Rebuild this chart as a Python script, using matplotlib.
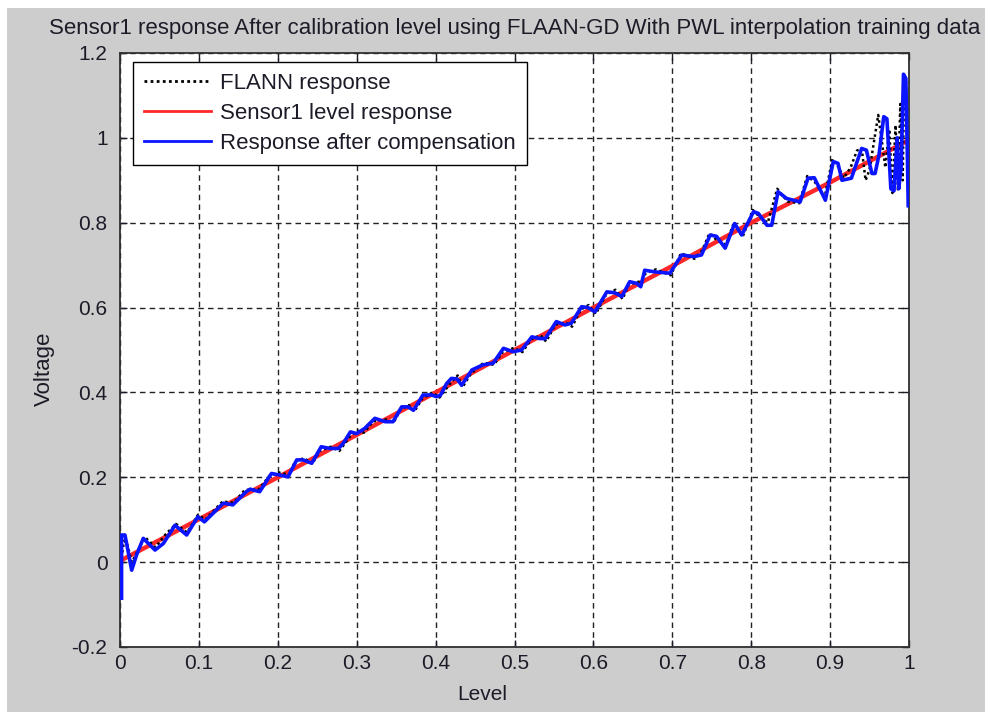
import matplotlib
matplotlib.use("Agg")
import matplotlib.pyplot as plt
from matplotlib.patches import Rectangle

plt.rcParams['font.family'] = ['Liberation Sans', 'DejaVu Sans']

# Reference sensor level response
level_ref = [0.0, 0.1, 0.2, 0.3, 0.4, 0.5, 0.6, 0.7, 0.8, 0.9, 1.0]
volt_ref = [0.003, 0.101, 0.200, 0.300, 0.400, 0.500, 0.600, 0.698, 0.800, 0.895, 0.995]

# Response after compensation
level_comp = [0.002, 0.002, 0.0063, 0.0148, 0.021, 0.0295, 0.0444, 0.055, 0.0697, 0.0845,
              0.0986, 0.107, 0.131, 0.143, 0.160, 0.165, 0.177, 0.192, 0.203, 0.213,
              0.224, 0.232, 0.243, 0.255, 0.266, 0.277, 0.283, 0.292, 0.300, 0.310,
              0.323, 0.336, 0.346, 0.357, 0.365, 0.372, 0.384, 0.395, 0.401, 0.406,
              0.414, 0.420, 0.427, 0.433, 0.446, 0.460, 0.473, 0.486, 0.498, 0.509,
              0.522, 0.532, 0.539, 0.553, 0.564, 0.572, 0.585, 0.593, 0.602, 0.617,
              0.627, 0.636, 0.646, 0.655, 0.660, 0.665, 0.678, 0.697, 0.712, 0.727,
              0.737, 0.748, 0.756, 0.767, 0.779, 0.788, 0.803, 0.809, 0.820, 0.826,
              0.834, 0.845, 0.862, 0.872, 0.880, 0.894, 0.904, 0.910, 0.915, 0.927,
              0.940, 0.946, 0.953, 0.957, 0.962, 0.968, 0.972, 0.977, 0.981, 0.985,
              0.987, 0.990, 0.993, 0.996, 0.998, 0.999]
volt_comp = [-0.085, 0.064, 0.064, -0.019, 0.017, 0.056, 0.0285, 0.044, 0.087, 0.064,
             0.107, 0.095, 0.139, 0.135, 0.166, 0.172, 0.166, 0.209, 0.205, 0.201,
             0.241, 0.241, 0.233, 0.272, 0.268, 0.268, 0.280, 0.307, 0.303, 0.315,
             0.339, 0.331, 0.331, 0.366, 0.366, 0.358, 0.394, 0.394, 0.390, 0.393,
             0.421, 0.433, 0.432, 0.417, 0.453, 0.465, 0.469, 0.504, 0.496, 0.500,
             0.531, 0.527, 0.527, 0.567, 0.559, 0.563, 0.602, 0.600, 0.590, 0.637,
             0.635, 0.626, 0.661, 0.657, 0.649, 0.688, 0.684, 0.681, 0.724, 0.720,
             0.724, 0.771, 0.768, 0.740, 0.798, 0.771, 0.826, 0.822, 0.794, 0.794,
             0.873, 0.857, 0.849, 0.905, 0.906, 0.853, 0.944, 0.940, 0.900, 0.905,
             0.975, 0.971, 0.916, 0.916, 0.960, 1.050, 1.045, 0.880, 0.875, 1.000,
             0.880, 0.930, 1.150, 1.140, 0.950, 0.840]

# FLANN output
level_flann = [0.002, 0.005, 0.0085, 0.015, 0.022, 0.031, 0.045, 0.058, 0.071, 0.085,
               0.099, 0.108, 0.130, 0.144, 0.158, 0.176, 0.190, 0.204, 0.214, 0.222,
               0.233, 0.244, 0.253, 0.267, 0.278, 0.291, 0.301, 0.309, 0.321, 0.337,
               0.347, 0.356, 0.366, 0.373, 0.383, 0.396, 0.405, 0.418, 0.428, 0.434,
               0.445, 0.461, 0.474, 0.485, 0.499, 0.510, 0.521, 0.533, 0.540, 0.552,
               0.565, 0.573, 0.584, 0.594, 0.603, 0.616, 0.628, 0.637, 0.645, 0.660,
               0.666, 0.679, 0.698, 0.711, 0.728, 0.738, 0.747, 0.757, 0.768, 0.778,
               0.789, 0.802, 0.810, 0.821, 0.833, 0.846, 0.861, 0.871, 0.881, 0.893,
               0.903, 0.911, 0.917, 0.926, 0.934, 0.940, 0.945, 0.950, 0.961, 0.965,
               0.970, 0.975, 0.979, 0.983, 0.986, 0.989, 0.992, 0.994, 0.996, 0.998,
               0.999]
volt_flann = [0.010, 0.050, 0.047, 0.000, 0.025, 0.060, 0.035, 0.066, 0.090, 0.070,
              0.112, 0.100, 0.143, 0.140, 0.170, 0.172, 0.205, 0.212, 0.204, 0.238,
              0.245, 0.232, 0.262, 0.272, 0.262, 0.295, 0.310, 0.305, 0.332, 0.336,
              0.330, 0.360, 0.370, 0.355, 0.385, 0.400, 0.388, 0.420, 0.440, 0.412,
              0.445, 0.470, 0.465, 0.495, 0.505, 0.495, 0.525, 0.535, 0.520, 0.560,
              0.565, 0.555, 0.595, 0.606, 0.585, 0.630, 0.642, 0.620, 0.655, 0.662,
              0.680, 0.690, 0.676, 0.728, 0.715, 0.735, 0.775, 0.758, 0.748, 0.800,
              0.766, 0.830, 0.815, 0.800, 0.880, 0.850, 0.846, 0.910, 0.895, 0.860,
              0.950, 0.930, 0.905, 0.930, 0.970, 0.975, 0.900, 0.925, 1.054, 1.000,
              0.930, 1.020, 0.870, 1.030, 0.875, 1.080, 0.900, 1.150, 1.140, 0.930,
              0.900]

x_ticks = [0, 0.1, 0.2, 0.3, 0.4, 0.5, 0.6, 0.7, 0.8, 0.9, 1]
x_tick_labels = ['0', '0.1', '0.2', '0.3', '0.4', '0.5', '0.6', '0.7', '0.8', '0.9', '1']
y_ticks = [-0.2, 0, 0.2, 0.4, 0.6, 0.8, 1, 1.2]
y_tick_labels = ['-0.2', '0', '0.2', '0.4', '0.6', '0.8', '1', '1.2']

TXT = '#1c1c28'
W, H = 985, 712
fig = plt.figure(figsize=(W / 100, H / 100), dpi=100, facecolor='white')
# grey window background with a thin white margin at top and left
fig.patches.append(Rectangle((7 / W, 0), 1 - 7 / W, 1 - 8 / H, transform=fig.transFigure,
                             facecolor='#cdcdcd', edgecolor='none', zorder=-10))

ax = fig.add_axes([120 / W, (H - 647) / H, (909 - 120) / W, (647 - 53) / H])
ax.set_facecolor('white')

ax.plot(level_flann, volt_flann, color='black', linestyle=(0, (1, 1.2)), linewidth=1.8,
        label='FLANN response', zorder=3)
ax.plot(level_ref, volt_ref, color='#ff2828', linewidth=3.2,
        label='Sensor1 level response', zorder=2)
ax.plot(level_comp, volt_comp, color='#0a14ff', linewidth=2.6, solid_joinstyle='round',
        label='Response after compensation', zorder=4)

ax.set_xlim(0, 1)
ax.set_ylim(-0.2, 1.2)
ax.set_xticks(x_ticks)
ax.set_xticklabels(x_tick_labels)
ax.set_yticks(y_ticks)
ax.set_yticklabels(y_tick_labels)
ax.tick_params(direction='in', top=True, right=True, length=5, width=1,
               labelsize=15, colors=TXT)
ax.tick_params(axis='x', pad=5)
ax.tick_params(axis='y', pad=9)
ax.grid(True, color='#222222', linestyle=(0, (4, 3)), linewidth=1.0)
for s in ax.spines.values():
    s.set_linewidth(1.3)
    s.set_color('#303030')

ax.set_xlabel('Level', fontsize=15, color=TXT)
ax.xaxis.set_label_coords(0.459, -0.064)
ax.set_ylabel('Voltage', fontsize=16, color=TXT)
ax.yaxis.set_label_coords(-0.082, 0.468)
ax.set_title('Sensor1 response After calibration level using FLAAN-GD With PWL interpolation training data',
             fontsize=16, color=TXT, pad=14)

leg = ax.legend(loc='upper left', bbox_to_anchor=(13 / 789, 1 - 9 / 594), borderaxespad=0,
                fontsize=16, frameon=True, fancybox=False, framealpha=1,
                edgecolor='black', handlelength=3.0, handletextpad=0.4,
                labelspacing=0.4, borderpad=0.5)
leg.get_frame().set_linewidth(1.0)
for h in leg.get_lines():
    h.set_linewidth(2.0)
for t in leg.get_texts():
    t.set_color(TXT)

fig.savefig('out.png', dpi=100, facecolor=fig.get_facecolor())
